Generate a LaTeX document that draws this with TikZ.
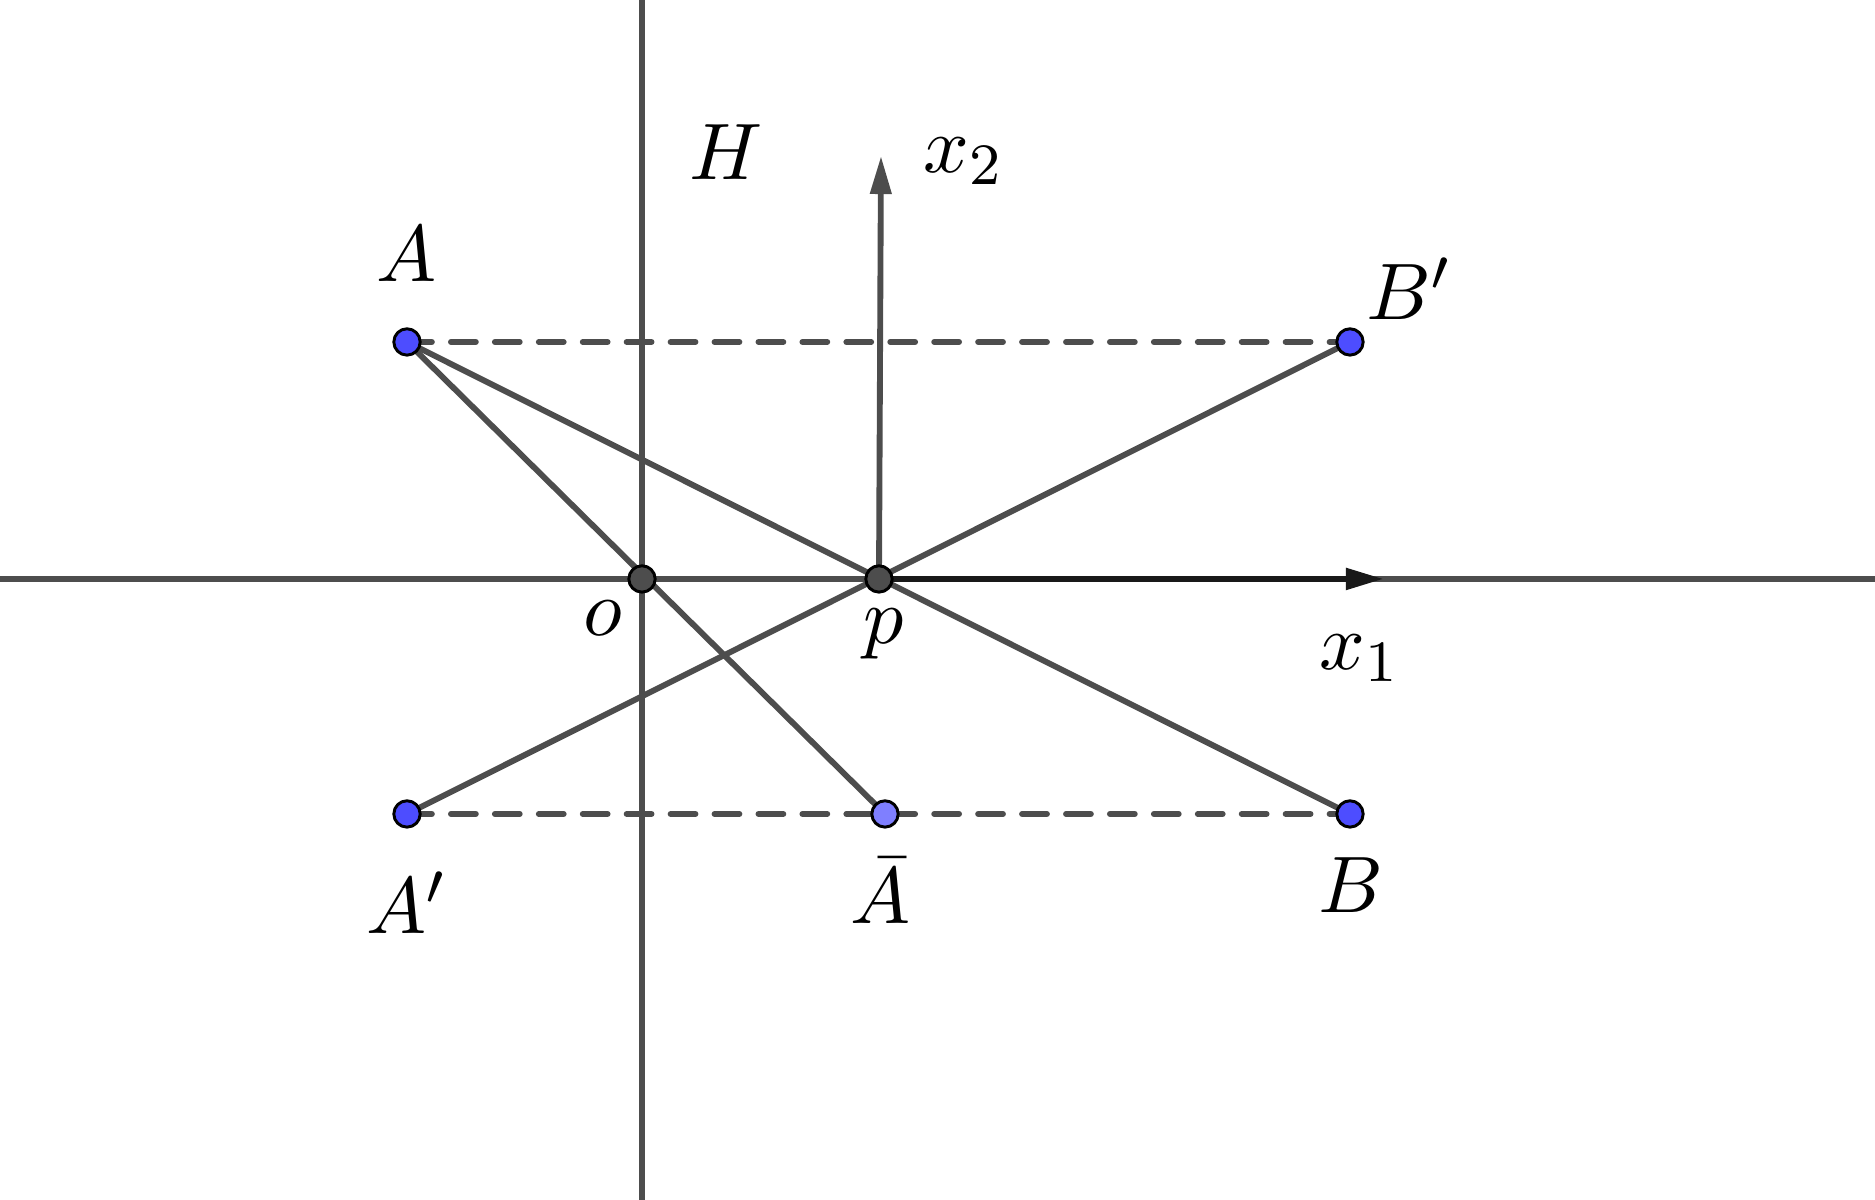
\documentclass[tikz,border=0pt]{standalone}
\usetikzlibrary{arrows.meta}
\definecolor{axisgray}{HTML}{4D4D4D}
\definecolor{ptblue}{HTML}{4D4DFF}
\definecolor{ptpale}{HTML}{7F7FFF}
\tikzset{
	geo/.style={color=axisgray, line width=0.8pt},
	proj/.style={geo, dash pattern=on 3.4pt off 2.6pt},
	pt/.style={circle, draw=black, line width=0.4pt, fill=ptblue, inner sep=0pt, minimum size=3.6pt},
	ptbar/.style={pt, fill=ptpale},
	ptcut/.style={pt, fill=axisgray}
}
\begin{document}
\begin{tikzpicture}[x=0.48cm, y=0.48cm, >={Triangle[length=5.2pt,width=2.8pt]}, line join=round, line cap=round, font=\fontsize{11}{13}\selectfont]
	\def\xmax{18.75} \def\ymax{12}
	\useasboundingbox (0,0) rectangle (\xmax,\ymax);
	% points
	\coordinate (O) at (6.42,6.21);
	\coordinate (p) at (8.79,6.21);
	\coordinate (A) at (4.07,8.58);
	\coordinate (Bp) at (13.50,8.58);
	\coordinate (Ap) at (4.07,3.86);
	\coordinate (Abar) at (8.85,3.86);
	\coordinate (B) at (13.50,3.86);
	% line ends
	\coordinate (Hbot) at (6.42,0); \coordinate (Htop) at (6.42,\ymax);
	\coordinate (axL) at (0,6.21); \coordinate (axR) at (\xmax,6.21);
	\coordinate (xonetip) at (13.84,6.21);
	\coordinate (xtwotip) at (8.81,10.44);
	% axes
	\draw[geo] (Hbot) -- (Htop);
	\draw[geo] (axL) -- (axR);
	\draw[geo, ->] (p) -- (xtwotip);
	\draw[color=black!90, line width=0.9pt, ->] (p) -- (xonetip);
	% projections
	\draw[proj] (A) -- (Bp);
	\draw[proj] (Ap) -- (B);
	\draw[geo] (A) -- (B);
	\draw[geo] (Ap) -- (Bp);
	\draw[geo] (A) -- (Abar);
	% dots
	\node[ptcut] (Odot) at (O) {};
	\node[ptcut] (pdot) at (p) {};
	\node[pt] (Adot) at (A) {};
	\node[pt] (Bpdot) at (Bp) {};
	\node[pt] (Apdot) at (Ap) {};
	\node[ptbar] (Abardot) at (Abar) {};
	\node[pt] (Bdot) at (B) {};
	% labels
	\node (Hlab) at (7.26,10.48) {$H$};
	\node (xtwolab) at (9.64,10.39) {$x_2$};
	\node (xonelab) at (13.60,5.42) {$x_1$};
	\node (Olab) at (6.03,5.82) {$o$};
	\node (plab) at (8.84,5.66) {$p$};
	\node (Alab) at (4.07,9.46) {$A$};
	\node (Bplab) at (14.09,9.11) {$B'$};
	\node (Aplab) at (4.07,2.97) {$A'$};
	\node (Abarlab) at (8.81,3.09) {$\bar{A}$};
	\node (Blab) at (13.51,3.15) {$B$};
\end{tikzpicture}
\end{document}
